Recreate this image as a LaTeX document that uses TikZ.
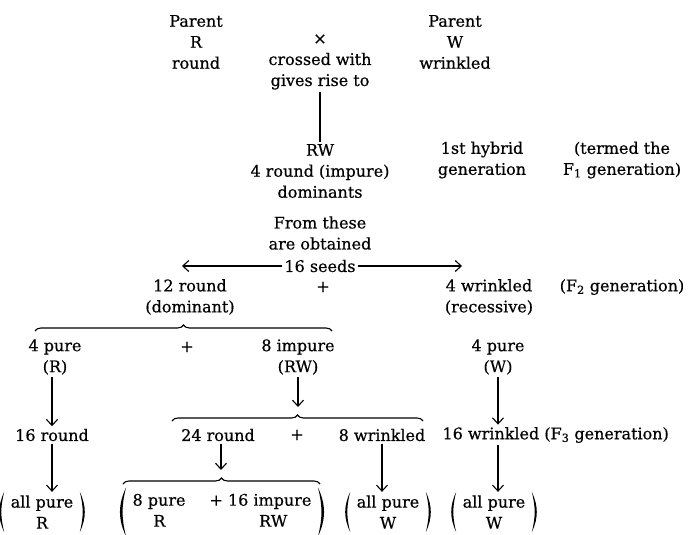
\documentclass[tikz,border=0pt]{standalone}
\usepackage{fontspec}
\setmainfont{DejaVu Serif}[FakeBold=0.5]
\usetikzlibrary{arrows.meta,decorations.pathreplacing}
\tikzset {
  >={Straight Barb[length=6pt,width=11pt]},
  every node/.style={font=\fontsize{16}{21}\selectfont,align=center,inner sep=2pt},
  curly/.style={decorate,decoration={brace,amplitude=6pt}},
  group/.style={inner xsep=6pt,inner ysep=3pt},
}
\newcommand\leftparen[1]{\fill (#1.north west) to[out=245,in=115] (#1.south west) to[out=104,in=256] (#1.north west);}
\newcommand\rightparen[1]{\fill (#1.north east) to[out=-65,in=65] (#1.south east) to[out=76,in=-76] (#1.north east);}

\begin{document}
\begin{tikzpicture}[x=1pt,y=-1pt,line width=1.1pt]
          \useasboundingbox (0,0) rectangle (693,535);

          \node (parentR) at (196,42) {Parent\\R\\round};
          \node (cross) at (320,62) {\texttimes\\crossed with\\gives rise to};
          \node (parentW) at (455,42) {Parent\\W\\wrinkled};

          \node (hybrid) at (320,171) {RW\\4 round (impure)\\dominants};
          \node (first) at (482,160) {1st hybrid\\generation};
          \node (termed) at (622,160) {(termed the\\F\textsubscript{1} generation)};
          \draw (cross) -- (hybrid);

          \node (obtained) at (320,233) {From these\\are obtained};
          \node (seeds) at (320,266) {16 seeds};
          \coordinate (seedsL) at (182,266);
          \coordinate (seedsR) at (462,266);
          \draw[->] (seeds) -- (seedsL);
          \draw[->] (seeds) -- (seedsR);

          \node (round12) at (190,297) {12 round\\(dominant)};
          \node (plusA) at (323,287) {+};
          \node (wrinkled4) at (489,297) {4 wrinkled\\(recessive)};
          \node (gen2) at (622,287) {(F\textsubscript{2} generation)};

          \coordinate (braceAl) at (35,331);
          \coordinate (braceAr) at (332,331);
          \draw[curly] (braceAl) -- (braceAr);

          \node (pureR) at (55,357) {4 pure\\(R)};
          \node (plusB) at (187,347) {+};
          \node (impure8) at (298,357) {8 impure\\(RW)};
          \node (pureW) at (498,357) {4 pure\\(W)};

          \coordinate (braceBl) at (172,421);
          \coordinate (braceBr) at (423,421);
          \coordinate (braceBtip) at (298,407);
          \draw[curly] (braceBl) -- (braceBr);
          \draw[->] (impure8) -- (braceBtip);

          \node (round16) at (52,435) {16 round};
          \node (round24) at (218,435) {24 round};
          \node (plusC) at (297,435) {+};
          \node (wrinkled8) at (382,435) {8 wrinkled};
          \node[anchor=west] (wrinkled16) at (440,435) {16 wrinkled (F\textsubscript{3} generation)};
          \draw[->] (pureR.south -| round16) -- (round16);
          \draw[->] (pureW) -- (pureW |- wrinkled16.north);

          \coordinate (braceCl) at (123,484);
          \coordinate (braceCr) at (320,484);
          \coordinate (braceCtip) at (221,470);
          \draw[curly] (braceCl) -- (braceCr);
          \draw[->] (round24.south -| braceCtip) -- (braceCtip);

          \node[group] (allR) at (42,512) {all pure\\R};
          \node[group] (mixed) at (222,512) {\begin{tabular}{@{}l@{\hspace{1.5em}}l@{}}8 pure & + 16 impure\\ \hspace{1.3em}R & \hspace{3.1em}RW\end{tabular}};
          \node[group] (allW) at (388,512) {all pure\\W};
          \node[group] (allW2) at (494,512) {all pure\\W};
          \leftparen{allR} \rightparen{allR}
          \leftparen{mixed} \rightparen{mixed}
          \leftparen{allW} \rightparen{allW}
          \leftparen{allW2} \rightparen{allW2}
          \draw[->] (round16) -- (round16 |- allR.north);
          \draw[->] (wrinkled8) -- (wrinkled8 |- allW.north);
          \draw[->] (pureW |- wrinkled16.south) -- (pureW |- allW2.north);
        \end{tikzpicture}
\end{document}
